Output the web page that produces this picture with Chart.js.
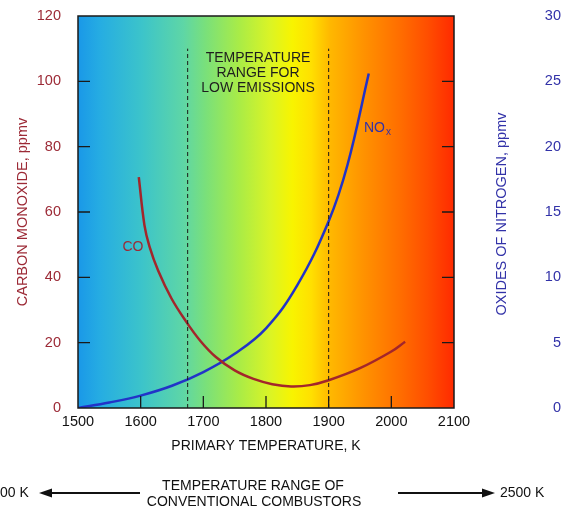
<!DOCTYPE html>
<html>
<head>
<meta charset="utf-8">
<script src="https://cdn.jsdelivr.net/npm/chart.js@4.4.1/dist/chart.umd.min.js"></script>
<style>
  body{margin:0;background:#fff;}
  canvas{display:block;}
</style>
</head>
<body>
<canvas id="emisChart" width="561" height="508"></canvas>
<script>
// Datos
const tempTicks = [1500,1600,1700,1800,1900,2000,2100];
const coTicks = [0,20,40,60,80,100,120];
const noxTicks = [0,5,10,15,20,25,30];

// CO (ppmv, eje izquierdo)
const coTemps  = [1597,1606,1614,1628,1649,1672,1695,1720,1750,1780,1810,1840,1870,1900,1950,2000,2022];
const coValues = [70.7,56.0,49.5,42.0,33.6,26.6,20.6,15.6,11.5,8.9,7.3,6.6,7.0,8.5,12.2,17.3,20.3];

// NOx (ppmv, eje derecho)
const noxTemps  = [1500,1550,1600,1650,1700,1750,1800,1850,1900,1930,1964];
const noxValues = [0,0.42,0.95,1.7,2.75,4.15,6.1,9.4,14.3,18.6,25.6];

// Rango de bajas emisiones (K) y altura de las líneas punteadas (eje CO)
const lowEmissionRange = [1675,1900];
const rangeLineTop = 110;

const FONT = "'Liberation Sans', Arial, sans-serif";
const coColor = '#a3262b';
const noxColor = '#2233c8';
const coTextColor = '#9c2a36';
const noxTextColor = '#3232a8';

const toPts = (xs, ys) => xs.map((x,i) => ({x:x, y:ys[i]}));

// Fondo en degradado
const bgGradient = {
  id:'bgGradient',
  beforeDatasetsDraw(chart){
    const {ctx, chartArea:a} = chart;
    const g = ctx.createLinearGradient(a.left,0,a.right,0);
    g.addColorStop(0.00,'#1a98e8');
    g.addColorStop(0.06,'#26ade2');
    g.addColorStop(0.17,'#3cc4ca');
    g.addColorStop(0.28,'#5ed6a6');
    g.addColorStop(0.34,'#7ae07a');
    g.addColorStop(0.43,'#aaec46');
    g.addColorStop(0.51,'#daf426');
    g.addColorStop(0.57,'#f8f400');
    g.addColorStop(0.62,'#ffe000');
    g.addColorStop(0.67,'#ffb800');
    g.addColorStop(0.76,'#ff9200');
    g.addColorStop(0.86,'#ff6c00');
    g.addColorStop(0.93,'#ff4e00');
    g.addColorStop(1.00,'#ff2a00');
    ctx.save();
    ctx.fillStyle = g;
    ctx.fillRect(a.left,a.top,a.right-a.left,a.bottom-a.top);
    ctx.restore();
  }
};

// Marco, marcas hacia dentro y textos
const extras = {
  id:'extras',
  afterDraw(chart){
    const {ctx, chartArea:a, scales} = chart;
    ctx.save();
    ctx.strokeStyle = '#1a1a1a';
    ctx.lineWidth = 1.5;
    ctx.strokeRect(a.left,a.top,a.right-a.left,a.bottom-a.top);

    ctx.lineWidth = 1.3;
    ctx.beginPath();
    coTicks.slice(1,-1).forEach(v => {
      const y = scales.y.getPixelForValue(v);
      ctx.moveTo(a.left,y); ctx.lineTo(a.left+12,y);
    });
    noxTicks.slice(1,-1).forEach(v => {
      const y = scales.y2.getPixelForValue(v);
      ctx.moveTo(a.right,y); ctx.lineTo(a.right-12,y);
    });
    tempTicks.slice(1,-1).forEach(v => {
      const x = scales.x.getPixelForValue(v);
      ctx.moveTo(x,a.bottom); ctx.lineTo(x,a.bottom-12);
    });
    ctx.stroke();

    // título eje derecho
    ctx.fillStyle = noxTextColor;
    ctx.font = '14.5px ' + FONT;
    ctx.textAlign = 'center';
    ctx.textBaseline = 'middle';
    ctx.save();
    ctx.translate(502,214);
    ctx.rotate(-Math.PI/2);
    ctx.fillText('OXIDES OF NITROGEN, ppmv',0,0);
    ctx.restore();

    // etiquetas de curvas
    ctx.font = '14px ' + FONT;
    ctx.fillStyle = coTextColor;
    ctx.fillText('CO',133,247);
    ctx.fillStyle = noxTextColor;
    ctx.textAlign = 'left';
    ctx.fillText('NO',364,128);
    ctx.font = '10px ' + FONT;
    ctx.fillText('x',386,132);

    // texto del rango
    ctx.fillStyle = '#1e1e1e';
    ctx.font = '14px ' + FONT;
    ctx.textAlign = 'center';
    ctx.fillText('TEMPERATURE',258,58);
    ctx.fillText('RANGE FOR',258,73);
    ctx.fillText('LOW EMISSIONS',258,88);

    // rango de combustores convencionales
    ctx.fillStyle = '#111';
    ctx.fillText('TEMPERATURE RANGE OF',253,486);
    ctx.fillText('CONVENTIONAL COMBUSTORS',254,502);
    ctx.textAlign = 'left';
    ctx.fillText('00 K',0,493);
    ctx.fillText('2500 K',500,493);

    ctx.strokeStyle = '#111';
    ctx.lineWidth = 2;
    ctx.beginPath();
    ctx.moveTo(140,493); ctx.lineTo(48,493);
    ctx.moveTo(398,493); ctx.lineTo(486,493);
    ctx.stroke();
    ctx.fillStyle = '#111';
    ctx.beginPath();
    ctx.moveTo(39,493); ctx.lineTo(52,488.5); ctx.lineTo(52,497.5); ctx.closePath();
    ctx.moveTo(495,493); ctx.lineTo(482,488.5); ctx.lineTo(482,497.5); ctx.closePath();
    ctx.fill();
    ctx.restore();
  }
};

const rangeLine = (t) => ({
  data:[{x:t,y:0},{x:t,y:rangeLineTop}],
  yAxisID:'y',
  borderColor:'#1a1a1a',
  borderWidth:1,
  borderDash:[4,3],
  pointRadius:0,
  tension:0
});

const fitV = (w) => (s) => { s.width = w; s.paddingTop = 0; s.paddingBottom = 0; };

new Chart(document.getElementById('emisChart').getContext('2d'), {
  type:'line',
  data:{
    datasets:[
      rangeLine(lowEmissionRange[0]),
      rangeLine(lowEmissionRange[1]),
      {
        label:'CO',
        data:toPts(coTemps,coValues),
        yAxisID:'y',
        borderColor:coColor,
        borderWidth:2.5,
        pointRadius:0,
        tension:0.4
      },
      {
        label:'NOx',
        data:toPts(noxTemps,noxValues),
        yAxisID:'y2',
        borderColor:noxColor,
        borderWidth:2.5,
        pointRadius:0,
        tension:0.4
      }
    ]
  },
  options:{
    responsive:false,
    animation:false,
    layout:{padding:{top:16,left:0,right:0,bottom:0}},
    plugins:{legend:{display:false},tooltip:{enabled:false}},
    scales:{
      x:{
        type:'linear',min:1500,max:2100,
        afterFit:s => { s.height = 100; },
        afterBuildTicks:s => { s.ticks = tempTicks.map(v => ({value:v})); },
        grid:{display:false,drawTicks:false},
        border:{display:false},
        ticks:{color:'#111',padding:5,font:{family:FONT,size:14.5},callback:v => String(v)},
        title:{display:true,text:'PRIMARY TEMPERATURE, K',color:'#111',
               font:{family:FONT,size:14},padding:{top:0,bottom:53}}
      },
      y:{
        position:'left',min:0,max:120,
        afterFit:fitV(78),
        afterBuildTicks:s => { s.ticks = coTicks.map(v => ({value:v})); },
        grid:{display:false,drawTicks:false},
        border:{display:false},
        ticks:{color:coTextColor,padding:17,font:{family:FONT,size:14.5}},
        title:{display:true,text:'CARBON MONOXIDE, ppmv',color:coTextColor,
               font:{family:FONT,size:14.5},padding:{top:14,bottom:0}}
      },
      y2:{
        position:'right',min:0,max:30,
        afterFit:fitV(107),
        afterBuildTicks:s => { s.ticks = noxTicks.map(v => ({value:v})); },
        grid:{display:false,drawTicks:false},
        border:{display:false},
        ticks:{color:noxTextColor,padding:10,crossAlign:'far',font:{family:FONT,size:14.5}}
      }
    }
  },
  plugins:[bgGradient,extras]
});
</script>
</body>
</html>
